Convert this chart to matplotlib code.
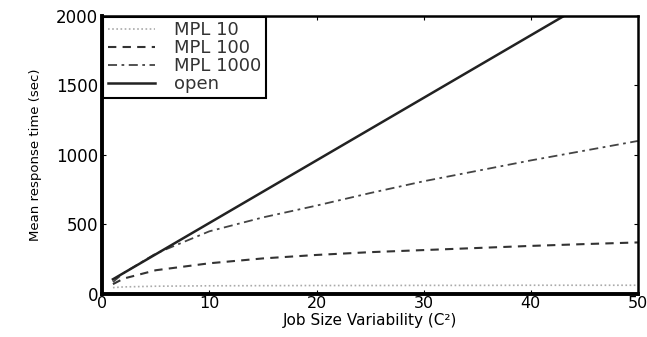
import matplotlib
matplotlib.use('Agg')
import matplotlib.pyplot as plt

# Job size variability (C^2) sample points
c2 = [1, 2, 5, 10, 15, 20, 25, 30, 35, 40, 45, 50]

# Mean response time (sec)
mpl10 = [45, 50, 55, 58, 59, 60, 60, 61, 61, 62, 62, 62]
mpl100 = [70, 110, 170, 220, 255, 280, 300, 315, 330, 345, 358, 370]
mpl1000 = [85, 150, 290, 450, 550, 635, 725, 810, 885, 960, 1030, 1100]
open_sys = [105, 150, 285, 510, 735, 960, 1185, 1410, 1635, 1860, 2085, 2310]

plt.rcParams['font.family'] = ['DejaVu Sans']

fig = plt.figure(figsize=(6.47, 3.37), dpi=100)
ax = fig.add_axes([0.158, 0.128, 0.828, 0.825])

ax.plot(c2, mpl10, linestyle=(0, (1, 1.5)), color='#aaaaaa', linewidth=1.2, label='MPL 10')
ax.plot(c2, mpl100, linestyle=(0, (4, 3)), color='#333333', linewidth=1.5, label='MPL 100')
ax.plot(c2, mpl1000, linestyle=(0, (5, 2.5, 1.5, 2.5)), color='#444444', linewidth=1.3, label='MPL 1000')
ax.plot(c2, open_sys, '-', color='#222222', linewidth=1.8, label='open')

ax.set_xlim(0, 50)
ax.set_ylim(0, 2000)
ax.set_xticks(range(0, 51, 10))
ax.set_yticks(range(0, 2001, 500))
ax.tick_params(direction='in', top=True, right=True, labelsize=12, length=3, pad=3)
ax.tick_params(axis='x', labelsize=11.5, pad=1.5)

for side in ['left', 'bottom']:
    ax.spines[side].set_linewidth(2.8)
for side in ['top', 'right']:
    ax.spines[side].set_linewidth(1.8)

ax.set_xlabel('Job Size Variability (C²)', fontsize=11)
ax.xaxis.set_label_coords(0.5, -0.07)
ax.set_ylabel('Mean response time (sec)', fontsize=9.5, labelpad=10)

leg = ax.legend(loc='upper left', borderaxespad=0.05, fontsize=13, fancybox=False,
                framealpha=1, edgecolor='black', handlelength=2.6,
                labelspacing=0.0, borderpad=0.25, handletextpad=1.1)
leg.get_frame().set_linewidth(1.5)
for t in leg.get_texts():
    t.set_color('#333333')

plt.savefig('out.png', dpi=100)
plt.close()
